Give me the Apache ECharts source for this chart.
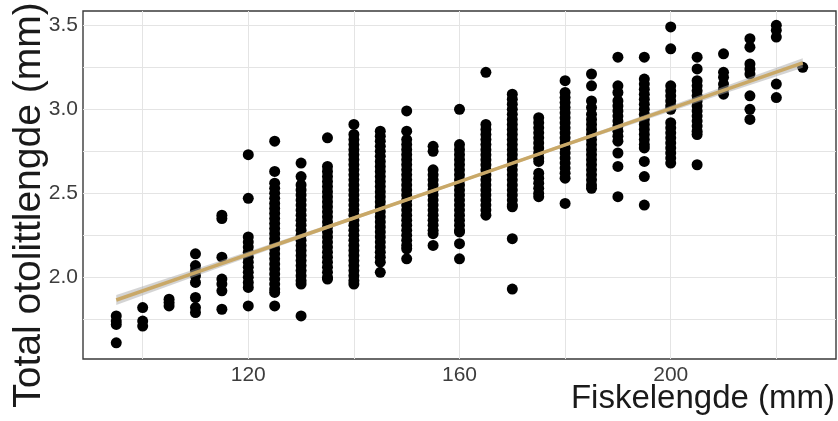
<!DOCTYPE html>
<html>
<head>
<meta charset="utf-8">
<script src="https://cdn.jsdelivr.net/npm/echarts@6/dist/echarts.min.js"></script>
<style>
html,body{margin:0;padding:0;background:#fff;}
#chart{width:838px;height:421px;}
</style>
</head>
<body>
<div id="chart"></div>
<script>
// Fish length classes (mm)
const fishLength = [95, 100, 105, 110, 115, 120, 125, 130, 135, 140, 145, 150, 155, 160, 165, 170, 175, 180, 185, 190, 195, 200, 205, 210, 215, 220, 225];
// Total otolith length (mm) observed for each length class
const otolithLength = [
  [1.77, 1.74, 1.72, 1.61],
  [1.82, 1.74, 1.71],
  [1.87, 1.85, 1.83],
  [2.14, 2.07, 2.04, 2.01, 1.97, 1.88, 1.82, 1.79],
  [2.37, 2.35, 2.12, 1.99, 1.96, 1.92, 1.81],
  [2.73, 2.47, 2.24, 2.21, 2.18, 2.15, 2.12, 2.09, 2.06, 2.03, 2.00, 1.97, 1.94, 1.83],
  [2.81, 2.63, 2.56, 2.53, 2.50, 2.47, 2.44, 2.41, 2.38, 2.35, 2.32, 2.29, 2.26, 2.23, 2.20, 2.17, 2.14, 2.11, 2.08, 2.05, 2.02, 1.99, 1.96, 1.93, 1.91, 1.83],
  [2.68, 2.60, 2.55, 2.52, 2.49, 2.46, 2.43, 2.40, 2.37, 2.34, 2.31, 2.28, 2.25, 2.22, 2.19, 2.16, 2.13, 2.10, 2.07, 2.04, 2.01, 1.98, 1.96, 1.77],
  [2.83, 2.66, 2.63, 2.60, 2.57, 2.54, 2.51, 2.48, 2.45, 2.42, 2.39, 2.36, 2.33, 2.30, 2.27, 2.24, 2.21, 2.18, 2.15, 2.12, 2.09, 2.06, 2.03, 2.00, 1.99],
  [2.91, 2.85, 2.82, 2.79, 2.76, 2.73, 2.70, 2.67, 2.64, 2.61, 2.58, 2.55, 2.52, 2.49, 2.46, 2.43, 2.40, 2.37, 2.34, 2.31, 2.28, 2.25, 2.22, 2.19, 2.16, 2.13, 2.10, 2.07, 2.04, 2.01, 1.98, 1.96],
  [2.87, 2.84, 2.81, 2.78, 2.75, 2.72, 2.69, 2.66, 2.63, 2.60, 2.57, 2.54, 2.51, 2.48, 2.45, 2.42, 2.39, 2.36, 2.33, 2.30, 2.27, 2.24, 2.21, 2.18, 2.15, 2.12, 2.09, 2.03],
  [2.99, 2.87, 2.82, 2.79, 2.76, 2.73, 2.70, 2.67, 2.64, 2.61, 2.58, 2.55, 2.52, 2.49, 2.46, 2.43, 2.40, 2.37, 2.34, 2.31, 2.28, 2.25, 2.22, 2.19, 2.17, 2.11],
  [2.78, 2.75, 2.64, 2.61, 2.58, 2.55, 2.52, 2.49, 2.46, 2.43, 2.40, 2.37, 2.34, 2.31, 2.28, 2.26, 2.19],
  [3.00, 2.79, 2.76, 2.73, 2.70, 2.67, 2.64, 2.61, 2.58, 2.55, 2.52, 2.49, 2.46, 2.43, 2.40, 2.37, 2.34, 2.31, 2.28, 2.27, 2.20, 2.11],
  [3.22, 2.91, 2.88, 2.85, 2.82, 2.79, 2.76, 2.73, 2.70, 2.67, 2.64, 2.61, 2.58, 2.55, 2.52, 2.49, 2.46, 2.43, 2.40, 2.37],
  [3.09, 3.06, 3.03, 3.00, 2.97, 2.94, 2.91, 2.88, 2.85, 2.82, 2.79, 2.76, 2.73, 2.70, 2.67, 2.64, 2.61, 2.58, 2.55, 2.52, 2.49, 2.46, 2.43, 2.42, 2.23, 1.93],
  [2.95, 2.92, 2.89, 2.86, 2.83, 2.80, 2.77, 2.74, 2.71, 2.69, 2.62, 2.59, 2.56, 2.53, 2.50, 2.48],
  [3.17, 3.10, 3.07, 3.04, 3.01, 2.98, 2.95, 2.92, 2.89, 2.86, 2.83, 2.80, 2.77, 2.74, 2.71, 2.68, 2.65, 2.62, 2.59, 2.44],
  [3.21, 3.14, 3.05, 3.01, 2.97, 2.94, 2.91, 2.88, 2.85, 2.82, 2.79, 2.76, 2.73, 2.70, 2.67, 2.64, 2.61, 2.58, 2.55, 2.53],
  [3.31, 3.14, 3.10, 3.05, 3.02, 2.99, 2.96, 2.93, 2.90, 2.87, 2.84, 2.81, 2.74, 2.66, 2.48],
  [3.31, 3.18, 3.15, 3.12, 3.09, 3.06, 3.03, 3.00, 2.97, 2.94, 2.91, 2.88, 2.85, 2.82, 2.79, 2.77, 2.69, 2.60, 2.43],
  [3.49, 3.36, 3.14, 3.11, 3.08, 3.05, 3.02, 3.00, 2.92, 2.89, 2.86, 2.83, 2.80, 2.77, 2.74, 2.71, 2.68],
  [3.31, 3.24, 3.17, 3.14, 3.11, 3.08, 3.05, 3.02, 2.99, 2.96, 2.93, 2.90, 2.87, 2.85, 2.67],
  [3.33, 3.22, 3.19, 3.15, 3.12, 3.09],
  [3.42, 3.37, 3.27, 3.24, 3.21, 3.08, 3.00, 2.94],
  [3.50, 3.47, 3.43, 3.15, 3.07],
  [3.25]
];
// Linear fit and its confidence band
const fitX = [95, 110, 125, 140, 160, 180, 195, 210, 225];
const fitY = [1.865, 2.028, 2.191, 2.353, 2.570, 2.788, 2.950, 3.113, 3.276];
const fitHalfCI = [0.030, 0.022, 0.015, 0.010, 0.008, 0.010, 0.015, 0.021, 0.028];
// Axis ticks
const xGridValues = [100, 120, 140, 160, 180, 200, 220];
const xLabelValues = [120, 160, 200];
const yGridValues = [1.75, 2.0, 2.25, 2.5, 2.75, 3.0, 3.25, 3.5];
const yLabelValues = [2.0, 2.5, 3.0, 3.5];
const xTitle = 'Fiskelengde (mm)';
const yTitle = 'Total otolittlengde (mm)';

const points = [];
fishLength.forEach((x, i) => otolithLength[i].forEach(y => points.push([x, y])));
const fitLine = fitX.map((x, i) => [x, fitY[i]]);

const chart = echarts.init(document.getElementById('chart'), null, {renderer: 'canvas'});
const font = 'Liberation Sans, Arial, Helvetica, sans-serif';
chart.setOption({
  animation: false,
  backgroundColor: '#ffffff',
  grid: {left: 83, right: 2, top: 11, bottom: 62, show: true, borderColor: '#3a3a3a', borderWidth: 1.4, backgroundColor: 'transparent'},
  xAxis: {
    type: 'value', min: 88.7, max: 231.3,
    axisLine: {show: false},
    axisTick: {show: false, customValues: xGridValues},
    axisLabel: {customValues: xLabelValues, fontSize: 21, color: '#3d3d3d', fontFamily: font, margin: 6},
    splitLine: {show: true, lineStyle: {color: '#e4e4e4', width: 1}}
  },
  yAxis: {
    type: 'value', min: 1.514, max: 3.585,
    axisLine: {show: false},
    axisTick: {show: false, customValues: yGridValues},
    axisLabel: {customValues: yLabelValues, fontSize: 21, color: '#3d3d3d', fontFamily: font, margin: 5,
      formatter: v => Number(v).toFixed(1)},
    splitLine: {show: true, lineStyle: {color: '#e4e4e4', width: 1}}
  },
  series: [
    {type: 'scatter', data: points, symbolSize: 11, itemStyle: {color: '#000000', opacity: 1}, z: 2},
    {type: 'custom', data: [0], z: 3, silent: true,
      renderItem: function (params, api) {
        const upper = fitX.map((x, i) => api.coord([x, fitY[i] + fitHalfCI[i]]));
        const lower = fitX.map((x, i) => api.coord([x, fitY[i] - fitHalfCI[i]])).reverse();
        return {type: 'polygon', shape: {points: upper.concat(lower)},
          style: {fill: 'rgba(170,170,170,0.5)'}};
      }},
    {type: 'line', data: fitLine, symbol: 'none', lineStyle: {color: '#c9a867', width: 3.5}, z: 4, silent: true}
  ],
  graphic: [
    {type: 'text', right: 3, top: 382, style: {text: xTitle, font: '33px ' + font, fill: '#1a1a1a'}},
    {type: 'text', x: 29, y: 205, rotation: Math.PI / 2,
      style: {text: yTitle, font: '39px ' + font, fill: '#1a1a1a', align: 'center', verticalAlign: 'middle'}}
  ]
});
</script>
</body>
</html>
